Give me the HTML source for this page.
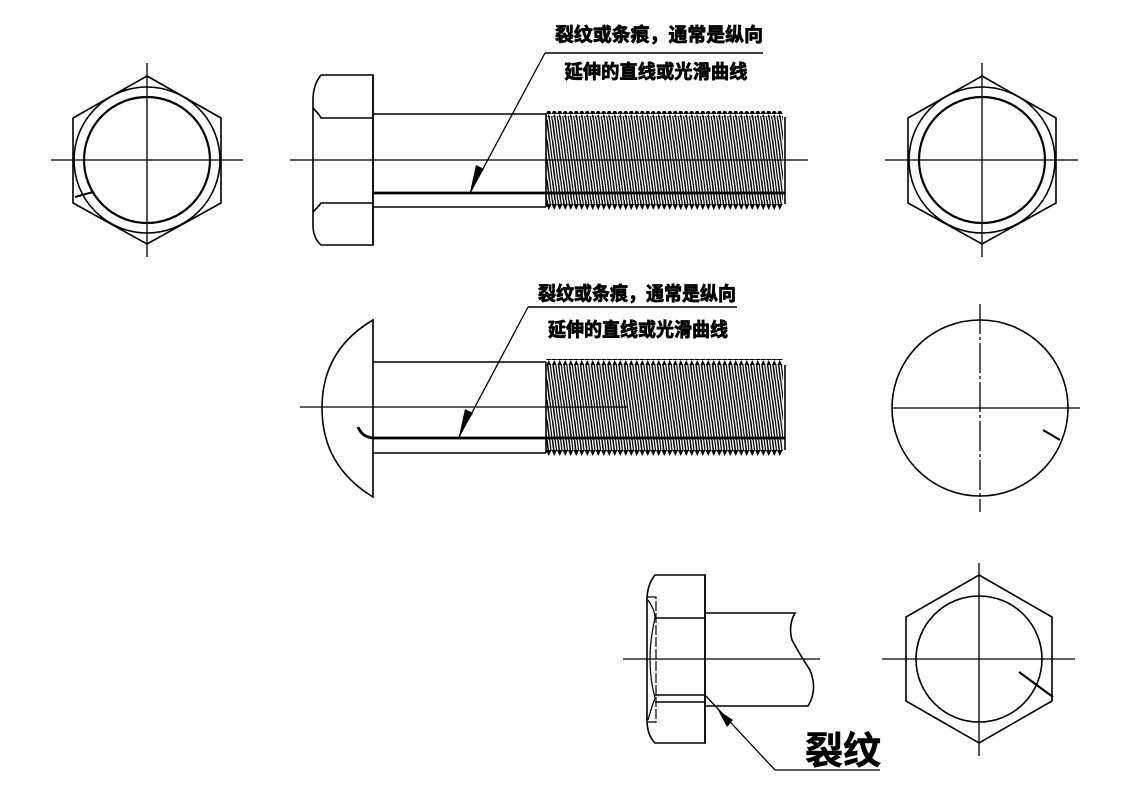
<!DOCTYPE html>
<html><head><meta charset="utf-8"><style>
html,body{margin:0;padding:0;background:#fff;}
svg{display:block;}
text{font-family:"Liberation Sans","Noto Sans CJK SC",sans-serif;font-weight:bold;fill:#000;}
</style></head><body>
<svg width="1123" height="794" viewBox="0 0 1123 794" xmlns="http://www.w3.org/2000/svg">
<defs>
<pattern id="thr" x="546" y="0" width="5.5" height="20" patternUnits="userSpaceOnUse">
<path d="M1 0 L3.5 20" stroke="#000" stroke-width="1.5"/>
<path d="M3.7 0 L6.2 20" stroke="#000" stroke-width="1.2"/>
<path d="M-1.8 0 L0.7 20" stroke="#000" stroke-width="1.2"/>
</pattern>
<pattern id="teeth" x="546" y="0" width="5.5" height="6" patternUnits="userSpaceOnUse">
<path d="M0 6 L2.75 0 L5.5 6Z" fill="#000"/>
</pattern>
</defs>
<g fill="none" stroke="#000" stroke-width="1.6">
<!-- left hex -->
<polygon points="147,76 221,118 221,203 147,244 73,203 73,118"/>
<circle cx="147" cy="160" r="73"/>
<circle cx="147" cy="160" r="63" stroke-width="2.2"/>
<line x1="51" y1="160" x2="243" y2="160" stroke-width="1.3"/>
<line x1="147" y1="63" x2="147" y2="257" stroke-width="1.3"/>
<line x1="75" y1="197" x2="93" y2="192" stroke-width="2"/>

<!-- top bolt head -->
<path d="M373 75 L321 75 Q313 85 313 100 L313 225 Q313 238 321 245 L373 245 Z"/>
<path d="M313 108 Q319 114 321 118 L373 118"/>
<path d="M313 212 Q319 206 321 203 L373 203"/>
<line x1="373" y1="75" x2="373" y2="245"/>
<!-- shank -->
<line x1="373" y1="114" x2="546" y2="114"/>
<line x1="373" y1="207" x2="546" y2="207"/>
<line x1="546" y1="114" x2="546" y2="207"/>
<!-- thread -->
<rect x="546" y="116" width="237" height="89" fill="url(#thr)" stroke="none"/>
<rect x="546" y="111" width="237" height="6" fill="url(#teeth)" stroke="none"/>
<rect x="546" y="204" width="237" height="6" fill="url(#teeth)" stroke="none" transform="translate(0,414) scale(1,-1)"/>
<line x1="785" y1="117" x2="785" y2="204"/>
<line x1="290" y1="160" x2="808" y2="160" stroke-width="1.3"/>
<line x1="373" y1="193" x2="785" y2="193" stroke-width="2.8"/>
<line x1="470" y1="193" x2="545" y2="53" stroke-width="1.3"/>
<polygon points="470,192 476,165 484,169" fill="#000" stroke="none"/>
<line x1="545" y1="53" x2="763" y2="53" stroke-width="1.6"/>

<!-- right top hex -->
<polygon points="982,76 1056,118 1056,203 982,244 908,203 908,118"/>
<circle cx="982" cy="160" r="73"/>
<circle cx="982" cy="160" r="63" stroke-width="2.2"/>
<line x1="885" y1="160" x2="1078" y2="160" stroke-width="1.3"/>
<line x1="982" y1="63" x2="982" y2="257" stroke-width="1.3"/>

<!-- middle bolt -->
<path d="M373 320 Q322 350 322 408 Q322 466 373 497 Z"/>
<line x1="373" y1="362" x2="546" y2="362"/>
<line x1="373" y1="453" x2="546" y2="453"/>
<line x1="546" y1="362" x2="546" y2="453"/>
<rect x="546" y="364" width="237" height="87" fill="url(#thr)" stroke="none"/>
<rect x="546" y="359" width="237" height="6" fill="url(#teeth)" stroke="none"/>
<rect x="546" y="450" width="237" height="6" fill="url(#teeth)" stroke="none" transform="translate(0,906) scale(1,-1)"/>
<line x1="785" y1="365" x2="785" y2="450"/>
<line x1="300" y1="407" x2="627" y2="407" stroke-width="1.3"/>
<path d="M358 427 Q362 437 373 438 L785 438" stroke-width="2.8"/>
<line x1="459" y1="437" x2="528" y2="307" stroke-width="1.3"/>
<polygon points="459,436 465,409 473,413" fill="#000" stroke="none"/>
<line x1="528" y1="307" x2="737" y2="307" stroke-width="1.6"/>

<!-- middle right circle -->
<circle cx="980" cy="408" r="88"/>
<line x1="892" y1="408" x2="1080" y2="408" stroke-width="1.3"/>
<line x1="980" y1="304" x2="980" y2="512" stroke-width="1.3" stroke-dasharray="30 3 3 3"/>
<line x1="1043" y1="430" x2="1060" y2="440" stroke-width="2"/>

<!-- bottom bolt -->
<path d="M705 575 L655 575 Q647 585 647 600 L647 720 Q647 735 655 743 L705 743 Z"/>
<line x1="705" y1="575" x2="705" y2="743"/>
<line x1="655" y1="618" x2="705" y2="618"/>
<line x1="655" y1="695" x2="705" y2="695"/>
<line x1="655" y1="702" x2="705" y2="702"/>
<path d="M648 597 L656 597 L656 722 L648 722" stroke-width="1.2" stroke-dasharray="10 2"/>
<path d="M648 600 Q655 610 655 618 Q650 640 650 659 Q650 680 655 698 Q650 712 648 720" stroke-width="1.2"/>
<path d="M705 613 L795 613 Q788 625 792 640 Q800 655 810 670 Q818 690 808 706 L705 706"/>
<line x1="623" y1="659" x2="820" y2="659" stroke-width="1.3"/>
<polyline points="705,695 775,770 880,770" stroke-width="1.3"/>
<polygon points="718,710 733,720 727,727" fill="#000" stroke="none"/>

<!-- bottom right hex -->
<polygon points="979,575 1052,617 1052,701 979,743 906,701 906,617"/>
<circle cx="979" cy="659" r="63"/>
<line x1="882" y1="659" x2="1075" y2="659" stroke-width="1.3"/>
<line x1="979" y1="563" x2="979" y2="756" stroke-width="1.3"/>
<line x1="1019" y1="672" x2="1053" y2="697" stroke-width="2.2"/>
</g>
<g stroke="#000" stroke-width="0.8">
<text x="659" y="41" font-size="19" text-anchor="middle" textLength="208" lengthAdjust="spacingAndGlyphs">裂纹或条痕，通常是纵向</text>
<text x="656" y="78" font-size="19" text-anchor="middle" textLength="183" lengthAdjust="spacingAndGlyphs">延伸的直线或光滑曲线</text>
<text x="637" y="300" font-size="19" text-anchor="middle" textLength="198" lengthAdjust="spacingAndGlyphs">裂纹或条痕，通常是纵向</text>
<text x="638" y="336" font-size="19" text-anchor="middle" textLength="180" lengthAdjust="spacingAndGlyphs">延伸的直线或光滑曲线</text>
<text x="805" y="764" font-size="38" stroke-width="0.6" textLength="76" lengthAdjust="spacingAndGlyphs">裂纹</text>
</g>
</svg>
</body></html>
